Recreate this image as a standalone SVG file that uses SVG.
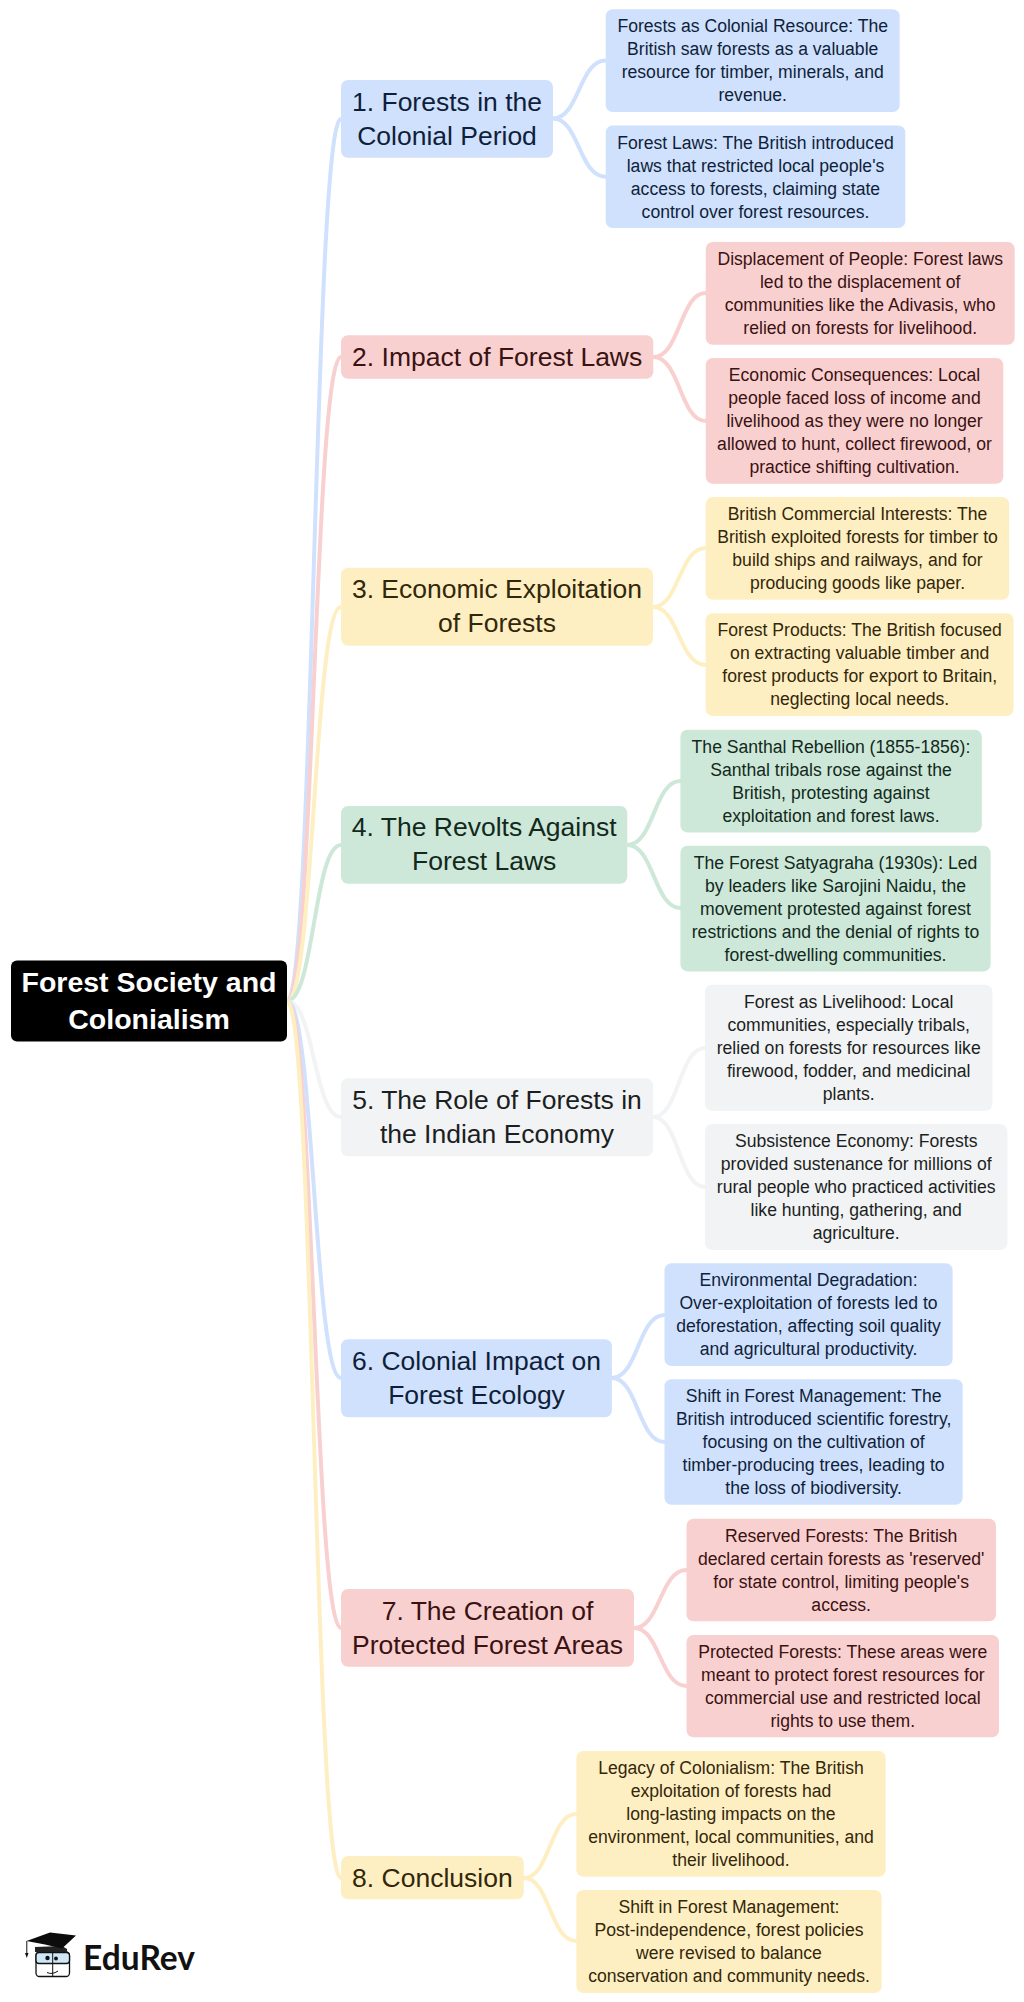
<svg xmlns="http://www.w3.org/2000/svg" width="1024" height="2002" viewBox="0 0 1024 2002">
<style>
text{font-family:"Liberation Sans",Arial,sans-serif;text-anchor:middle}
.leaf{font-size:17.6px}
.sec{font-size:26.5px}
.rt{font-size:28.500px;font-weight:bold;fill:#fff}
#connectors path{fill:none;stroke-width:4;stroke-linecap:round}
.blue rect{fill:#d0e1fd}.blue text{fill:#0f1f3a}
.red rect{fill:#f9d0d0}.red text{fill:#3a1212}
.yel rect{fill:#feefc3}.yel text{fill:#33270a}
.grn rect{fill:#cde8d8}.grn text{fill:#12291c}
.gry rect{fill:#f1f3f5}.gry text{fill:#1c1f22}
.sb{stroke:#d0e1fd}.sr{stroke:#f9d0d0}.sy{stroke:#feefc3}.sg{stroke:#cde8d8}.sw{stroke:#f1f3f5}
</style>
<rect width="1024" height="2002" fill="#fff"/>
<g id="connectors">
<path class="sb" d="M287 1001C314 1001 314 119 341 119"/>
<path class="sr" d="M287 1001C314 1001 314 357 341 357"/>
<path class="sy" d="M287 1001C314 1001 314 607 341 607"/>
<path class="sg" d="M287 1001C314 1001 314 845 341 845"/>
<path class="sw" d="M287 1001C314 1001 314 1117 341 1117"/>
<path class="sb" d="M287 1001C314 1001 314 1378 341 1378"/>
<path class="sr" d="M287 1001C314 1001 314 1628 341 1628"/>
<path class="sy" d="M287 1001C314 1001 314 1878 341 1878"/>
<path class="sb" d="M553 118.500C579 118.500 579 60.600 605.700 60.600"/>
<path class="sb" d="M553 118.500C579 118.500 579 176.700 605.700 176.700"/>
<path class="sr" d="M653.300 357C680 357 680 293 705.700 293"/>
<path class="sr" d="M653.300 357C680 357 680 421 705.700 421"/>
<path class="sy" d="M653 607C679 607 679 548 705.700 548"/>
<path class="sy" d="M653 607C679 607 679 665 705.700 665"/>
<path class="sg" d="M627.300 845C654 845 654 781 680.400 781"/>
<path class="sg" d="M627.300 845C654 845 654 908 680.400 908"/>
<path class="sw" d="M653 1117C679 1117 679 1048 705 1048"/>
<path class="sw" d="M653 1117C679 1117 679 1187 705 1187"/>
<path class="sb" d="M611.900 1378C638 1378 638 1315 664.500 1315"/>
<path class="sb" d="M611.900 1378C638 1378 638 1442 664.500 1442"/>
<path class="sr" d="M634 1628C660 1628 660 1570 686.500 1570"/>
<path class="sr" d="M634 1628C660 1628 660 1686 686.500 1686"/>
<path class="sy" d="M523.800 1878C550 1878 550 1814 576.300 1814"/>
<path class="sy" d="M523.800 1878C550 1878 550 1941 576.300 1941"/>
</g>
<g id="root"><rect x="11" y="960.500" width="276" height="81" rx="6" fill="#000"/>
<text class="rt" y="992"><tspan x="149">Forest Society and</tspan><tspan x="149" dy="37">Colonialism</tspan></text></g>
<g id="n1" class="blue"><rect x="341" y="80" width="212" height="77.700" rx="7"/>
<text class="sec" y="110.500"><tspan x="447">1. Forests in the</tspan><tspan x="447" dy="34.300">Colonial Period</tspan></text></g>
<g id="n1a" class="blue"><rect x="605.700" y="9.300" width="294" height="102.700" rx="7"/>
<text class="leaf" y="32.300"><tspan x="752.700">Forests as Colonial Resource: The</tspan><tspan x="752.700" dy="23">British saw forests as a valuable</tspan><tspan x="752.700" dy="23">resource for timber, minerals, and</tspan><tspan x="752.700" dy="23">revenue.</tspan></text></g>
<g id="n1b" class="blue"><rect x="605.700" y="125.500" width="299.600" height="102.500" rx="7"/>
<text class="leaf" y="148.500"><tspan x="755.500">Forest Laws: The British introduced</tspan><tspan x="755.500" dy="23">laws that restricted local people's</tspan><tspan x="755.500" dy="23">access to forests, claiming state</tspan><tspan x="755.500" dy="23">control over forest resources.</tspan></text></g>
<g id="n2" class="red"><rect x="341" y="335.300" width="312.300" height="43.400" rx="7"/>
<text class="sec" y="366"><tspan x="497.200">2. Impact of Forest Laws</tspan></text></g>
<g id="n2a" class="red"><rect x="705.700" y="242" width="309" height="102.700" rx="7"/>
<text class="leaf" y="265"><tspan x="860.200">Displacement of People: Forest laws</tspan><tspan x="860.200" dy="23">led to the displacement of</tspan><tspan x="860.200" dy="23">communities like the Adivasis, who</tspan><tspan x="860.200" dy="23">relied on forests for livelihood.</tspan></text></g>
<g id="n2b" class="red"><rect x="705.700" y="358" width="297.600" height="125.700" rx="7"/>
<text class="leaf" y="381"><tspan x="854.500">Economic Consequences: Local</tspan><tspan x="854.500" dy="23">people faced loss of income and</tspan><tspan x="854.500" dy="23">livelihood as they were no longer</tspan><tspan x="854.500" dy="23">allowed to hunt, collect firewood, or</tspan><tspan x="854.500" dy="23">practice shifting cultivation.</tspan></text></g>
<g id="n3" class="yel"><rect x="341" y="567.700" width="312" height="78" rx="7"/>
<text class="sec" y="598"><tspan x="497">3. Economic Exploitation</tspan><tspan x="497" dy="34.300">of Forests</tspan></text></g>
<g id="n3a" class="yel"><rect x="705.700" y="497" width="303.500" height="102.700" rx="7"/>
<text class="leaf" y="520"><tspan x="857.500">British Commercial Interests: The</tspan><tspan x="857.500" dy="23">British exploited forests for timber to</tspan><tspan x="857.500" dy="23">build ships and railways, and for</tspan><tspan x="857.500" dy="23">producing goods like paper.</tspan></text></g>
<g id="n3b" class="yel"><rect x="705.700" y="613.300" width="307.900" height="102.700" rx="7"/>
<text class="leaf" y="636.300"><tspan x="859.700">Forest Products: The British focused</tspan><tspan x="859.700" dy="23">on extracting valuable timber and</tspan><tspan x="859.700" dy="23">forest products for export to Britain,</tspan><tspan x="859.700" dy="23">neglecting local needs.</tspan></text></g>
<g id="n4" class="grn"><rect x="341" y="806" width="286.300" height="77.700" rx="7"/>
<text class="sec" y="836"><tspan x="484.200">4. The Revolts Against</tspan><tspan x="484.200" dy="34.300">Forest Laws</tspan></text></g>
<g id="n4a" class="grn"><rect x="680.400" y="729.700" width="301.400" height="102.700" rx="7"/>
<text class="leaf" y="752.700"><tspan x="831">The Santhal Rebellion (1855-1856):</tspan><tspan x="831" dy="23">Santhal tribals rose against the</tspan><tspan x="831" dy="23">British, protesting against</tspan><tspan x="831" dy="23">exploitation and forest laws.</tspan></text></g>
<g id="n4b" class="grn"><rect x="680.400" y="845.700" width="310.200" height="125.700" rx="7"/>
<text class="leaf" y="868.700"><tspan x="835.500">The Forest Satyagraha (1930s): Led</tspan><tspan x="835.500" dy="23">by leaders like Sarojini Naidu, the</tspan><tspan x="835.500" dy="23">movement protested against forest</tspan><tspan x="835.500" dy="23">restrictions and the denial of rights to</tspan><tspan x="835.500" dy="23">forest-dwelling communities.</tspan></text></g>
<g id="n5" class="gry"><rect x="341" y="1078.300" width="312" height="78" rx="7"/>
<text class="sec" y="1108.500"><tspan x="497">5. The Role of Forests in</tspan><tspan x="497" dy="34.300">the Indian Economy</tspan></text></g>
<g id="n5a" class="gry"><rect x="705" y="984.700" width="287.400" height="126" rx="7"/>
<text class="leaf" y="1007.700"><tspan x="848.700">Forest as Livelihood: Local</tspan><tspan x="848.700" dy="23">communities, especially tribals,</tspan><tspan x="848.700" dy="23">relied on forests for resources like</tspan><tspan x="848.700" dy="23">firewood, fodder, and medicinal</tspan><tspan x="848.700" dy="23">plants.</tspan></text></g>
<g id="n5b" class="gry"><rect x="705" y="1124" width="302.400" height="126" rx="7"/>
<text class="leaf" y="1147"><tspan x="856.200">Subsistence Economy: Forests</tspan><tspan x="856.200" dy="23">provided sustenance for millions of</tspan><tspan x="856.200" dy="23">rural people who practiced activities</tspan><tspan x="856.200" dy="23">like hunting, gathering, and</tspan><tspan x="856.200" dy="23">agriculture.</tspan></text></g>
<g id="n6" class="blue"><rect x="341" y="1339.300" width="270.900" height="78" rx="7"/>
<text class="sec" y="1369.500"><tspan x="476.500">6. Colonial Impact on</tspan><tspan x="476.500" dy="34.300">Forest Ecology</tspan></text></g>
<g id="n6a" class="blue"><rect x="664.500" y="1263.300" width="288.100" height="102.700" rx="7"/>
<text class="leaf" y="1286.300"><tspan x="808.500">Environmental Degradation:</tspan><tspan x="808.500" dy="23">Over-exploitation of forests led to</tspan><tspan x="808.500" dy="23">deforestation, affecting soil quality</tspan><tspan x="808.500" dy="23">and agricultural productivity.</tspan></text></g>
<g id="n6b" class="blue"><rect x="664.500" y="1379.300" width="298.200" height="125.400" rx="7"/>
<text class="leaf" y="1402.300"><tspan x="813.600">Shift in Forest Management: The</tspan><tspan x="813.600" dy="23">British introduced scientific forestry,</tspan><tspan x="813.600" dy="23">focusing on the cultivation of</tspan><tspan x="813.600" dy="23">timber-producing trees, leading to</tspan><tspan x="813.600" dy="23">the loss of biodiversity.</tspan></text></g>
<g id="n7" class="red"><rect x="341" y="1589" width="293" height="77.700" rx="7"/>
<text class="sec" y="1619.500"><tspan x="487.500">7. The Creation of</tspan><tspan x="487.500" dy="34.300">Protected Forest Areas</tspan></text></g>
<g id="n7a" class="red"><rect x="686.500" y="1518.700" width="309.500" height="102.600" rx="7"/>
<text class="leaf" y="1541.700"><tspan x="841.200">Reserved Forests: The British</tspan><tspan x="841.200" dy="23">declared certain forests as 'reserved'</tspan><tspan x="841.200" dy="23">for state control, limiting people's</tspan><tspan x="841.200" dy="23">access.</tspan></text></g>
<g id="n7b" class="red"><rect x="686.500" y="1635" width="312.500" height="102.300" rx="7"/>
<text class="leaf" y="1658"><tspan x="842.800">Protected Forests: These areas were</tspan><tspan x="842.800" dy="23">meant to protect forest resources for</tspan><tspan x="842.800" dy="23">commercial use and restricted local</tspan><tspan x="842.800" dy="23">rights to use them.</tspan></text></g>
<g id="n8" class="yel"><rect x="341" y="1856" width="182.800" height="43.300" rx="7"/>
<text class="sec" y="1887"><tspan x="432.400">8. Conclusion</tspan></text></g>
<g id="n8a" class="yel"><rect x="576.300" y="1751" width="309.400" height="125.700" rx="7"/>
<text class="leaf" y="1773.800"><tspan x="731">Legacy of Colonialism: The British</tspan><tspan x="731" dy="23">exploitation of forests had</tspan><tspan x="731" dy="23">long-lasting impacts on the</tspan><tspan x="731" dy="23">environment, local communities, and</tspan><tspan x="731" dy="23">their livelihood.</tspan></text></g>
<g id="n8b" class="yel"><rect x="576.300" y="1890" width="305.400" height="103" rx="7"/>
<text class="leaf" y="1912.800"><tspan x="729">Shift in Forest Management:</tspan><tspan x="729" dy="23">Post-independence, forest policies</tspan><tspan x="729" dy="23">were revised to balance</tspan><tspan x="729" dy="23">conservation and community needs.</tspan></text></g>
<g id="logo">
<rect x="36" y="1952" width="33.500" height="24.500" rx="3.500" fill="#fff" stroke="#111" stroke-width="1.300"/>
<rect x="36" y="1952.500" width="33.500" height="11" rx="3" fill="#cfe6f7" stroke="#111" stroke-width="1.300"/>
<path d="M52.700 1952V1976M47 1972.500Q52 1975 58 1971" fill="none" stroke="#111" stroke-width="1"/>
<circle cx="47.500" cy="1958" r="2.200" fill="#111"/><circle cx="56" cy="1958.500" r="1.900" fill="#111"/>
<path d="M35 1947V1952H67V1949L62 1946Z" fill="#222"/>
<path d="M26.500 1941L50 1932.500L76 1935.500L62 1948.500L45 1944.500Z" fill="#0c0c0c"/>
<path d="M26.800 1941V1953" stroke="#111" stroke-width="1"/><path d="M25 1953H28.500L26.800 1958Z" fill="#111"/>
<text x="139" y="1970" style="font-family:Lato,'Liberation Sans',sans-serif;font-weight:700;font-size:33.500px;fill:#111">EduRev</text>
</g>
</svg>
